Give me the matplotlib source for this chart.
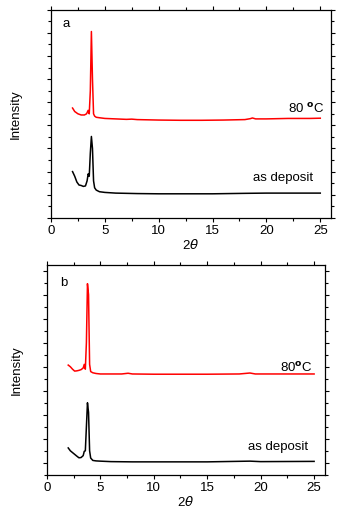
import numpy as np
import matplotlib.pyplot as plt
from matplotlib.ticker import MultipleLocator, NullFormatter

plt.rcParams['font.family'] = ['Liberation Sans', 'DejaVu Sans']
plt.rcParams['mathtext.fontset'] = 'dejavusans'

# panel a: 80 C
a_red_x = [2.0, 2.2, 2.5, 2.8, 3.1, 3.3, 3.45, 3.55, 3.65, 3.75, 3.85, 3.95, 4.05, 4.2, 4.5, 5,
           6, 7, 7.5, 8, 10, 12, 14, 16, 18, 18.5, 18.7, 19, 20, 22, 24, 25]
a_red_y = [4.75, 4.6, 4.5, 4.45, 4.45, 4.5, 4.65, 4.5, 5.5, 8.06, 6.0, 4.5, 4.4, 4.35, 4.33, 4.3,
           4.28, 4.26, 4.27, 4.25, 4.23, 4.22, 4.22, 4.23, 4.25, 4.29, 4.32, 4.28, 4.28, 4.3, 4.3, 4.31]
# panel a: as deposit
a_blk_x = [2.0, 2.2, 2.4, 2.6, 2.8, 3.0, 3.2, 3.35, 3.45, 3.55, 3.65, 3.75, 3.85, 3.95, 4.05, 4.2,
           4.5, 5, 6, 8, 10, 12, 15, 18, 20, 22, 25]
a_blk_y = [2.0, 1.8, 1.55, 1.42, 1.4, 1.36, 1.38, 1.6, 1.9, 1.8, 2.8, 3.52, 3.0, 1.6, 1.3, 1.2,
           1.13, 1.1, 1.07, 1.05, 1.04, 1.04, 1.04, 1.06, 1.07, 1.07, 1.07]

# panel b: 80 C
b_red_x = [2.0, 2.2, 2.4, 2.6, 2.8, 3.0, 3.2, 3.4, 3.5, 3.6, 3.7, 3.8, 3.9, 4.0, 4.1, 4.3, 4.6, 5,
           6, 7, 7.6, 8, 10, 15, 18, 19, 19.5, 20, 25]
b_red_y = [4.57, 4.5, 4.4, 4.32, 4.33, 4.35, 4.38, 4.45, 4.6, 4.4, 5.5, 7.96, 7.5, 4.6, 4.3, 4.25,
           4.22, 4.2, 4.2, 4.2, 4.23, 4.2, 4.19, 4.19, 4.2, 4.24, 4.2, 4.2, 4.2]
# panel b: as deposit
b_blk_x = [2.0, 2.2, 2.5, 2.8, 3.0, 3.2, 3.4, 3.5, 3.6, 3.7, 3.8, 3.9, 4.0, 4.1, 4.3, 4.6, 5,
           6, 8, 10, 15, 19, 20, 25]
b_blk_y = [1.12, 1.0, 0.89, 0.78, 0.71, 0.72, 0.8, 0.98, 1.0, 2.0, 3.0, 2.6, 1.0, 0.7, 0.6, 0.58,
           0.57, 0.55, 0.54, 0.54, 0.54, 0.57, 0.55, 0.56]

fig = plt.figure(figsize=(3.47, 5.15), dpi=100)
ax1 = fig.add_axes([0.147, 0.577, 0.807, 0.404])
ax2 = fig.add_axes([0.135, 0.078, 0.801, 0.408])


def style(ax, ymax):
    ax.set_xlim(0, 26)
    ax.set_ylim(0, ymax)
    ax.xaxis.set_major_locator(MultipleLocator(5))
    ax.xaxis.set_minor_locator(MultipleLocator(2.5))
    ax.yaxis.set_major_locator(MultipleLocator(1))
    ax.yaxis.set_minor_locator(MultipleLocator(0.5))
    ax.yaxis.set_major_formatter(NullFormatter())
    ax.tick_params(which='both', direction='out', top=True, right=True, width=0.8,
                   labelsize=9.5, pad=2)
    ax.tick_params(which='major', length=3)
    ax.tick_params(which='minor', length=2)
    for s in ax.spines.values():
        s.set_linewidth(0.9)
    ax.set_ylabel('Intensity', fontsize=9.5, labelpad=16)
    ax.set_xlabel(r'2$\theta$', fontsize=9.5, labelpad=1)


ax1.plot(a_red_x, a_red_y, color='#ff0000', lw=1.1)
ax1.plot(a_blk_x, a_blk_y, color='black', lw=1.1)
style(ax1, 9)
ax1.text(22.0, 4.7, r'80 $^{\mathbf{o}}$C', fontsize=9.5, va='center')
ax1.text(18.75, 1.73, 'as deposit', fontsize=9.5, va='center')
ax1.text(1.1, 8.4, 'a', fontsize=9.5, va='center')

ax2.plot(b_red_x, b_red_y, color='#ff0000', lw=1.1)
ax2.plot(b_blk_x, b_blk_y, color='black', lw=1.1)
style(ax2, 8.75)
ax2.yaxis.set_major_locator(MultipleLocator(1, offset=0.5))
ax2.set_ylabel('Intensity', fontsize=9.5, labelpad=12)
ax2.text(21.8, 4.47, r'80$^{\mathbf{o}}$C', fontsize=9.5, va='center')
ax2.text(18.8, 1.14, 'as deposit', fontsize=9.5, va='center')
ax2.text(1.2, 8.0, 'b', fontsize=9.5, va='center')

plt.savefig('out.png', dpi=100)
plt.close()
